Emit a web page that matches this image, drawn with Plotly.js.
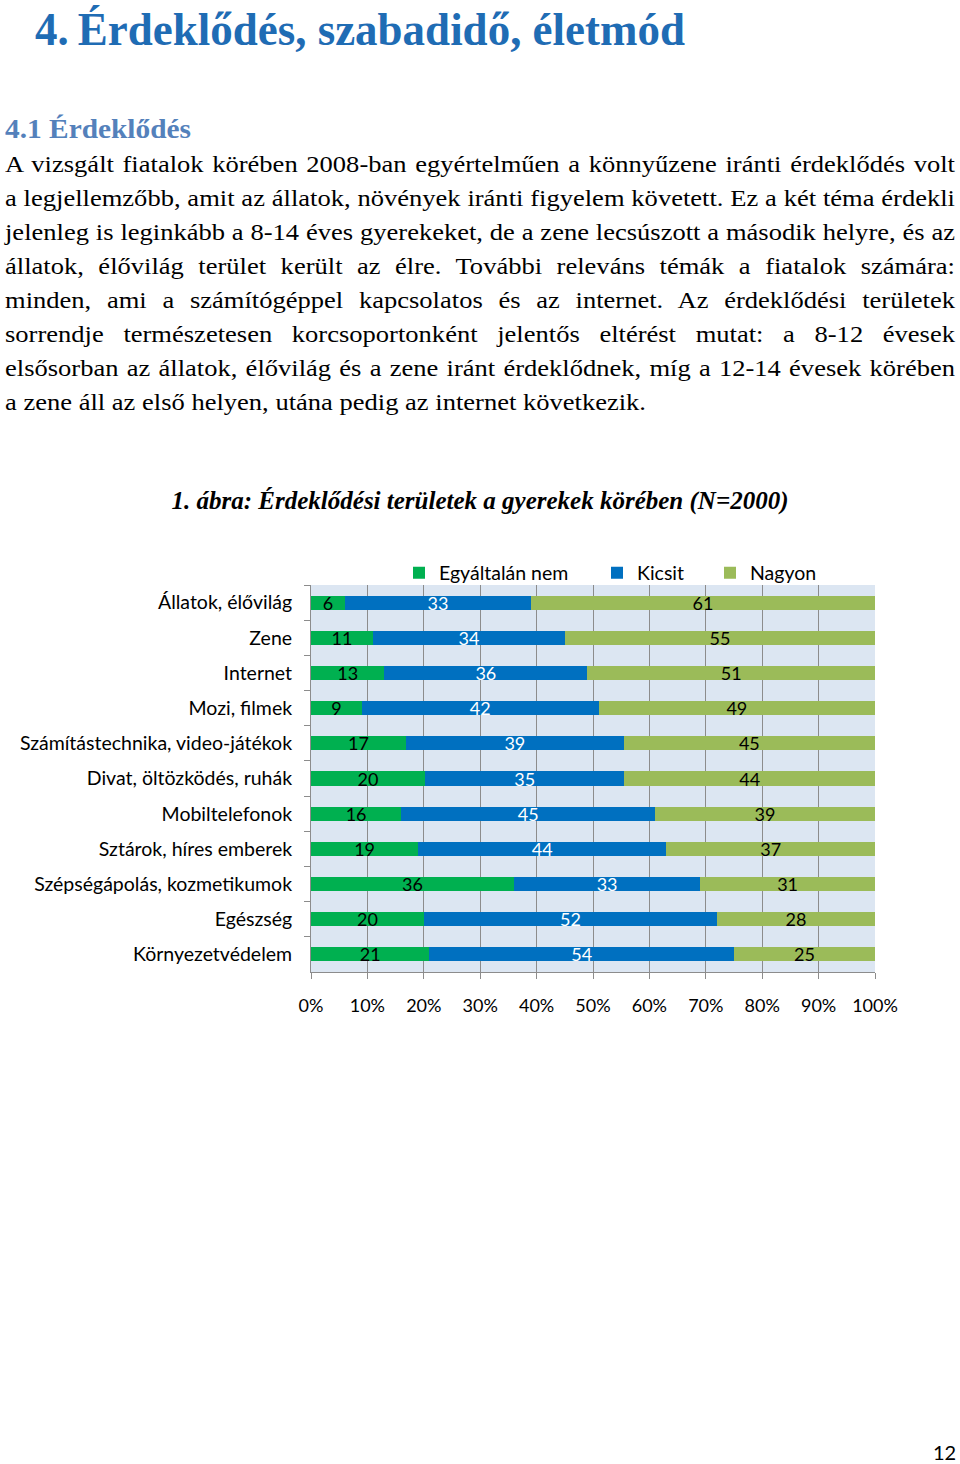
<!DOCTYPE html>
<html><head><meta charset="utf-8">
<script src="https://cdn.plot.ly/plotly-3.0.1.min.js"></script>
<style>
html,body{margin:0;padding:0;background:#fff;}
#page{position:relative;width:960px;height:1464px;overflow:hidden;background:#fff;}
#chart{position:absolute;left:0;top:0;width:960px;height:1464px;}
.t{position:absolute;white-space:nowrap;transform-origin:0 50%;z-index:5;pointer-events:none;}
.t span{display:inline-block;white-space:nowrap;}
</style></head><body>
<div id="page"><div id="chart"></div></div>
<script>
// ---- chart data ----
const categories = ['Állatok, élővilág','Zene','Internet','Mozi, filmek','Számítástechnika, video-játékok','Divat, öltözködés, ruhák','Mobiltelefonok','Sztárok, híres emberek','Szépségápolás, kozmetikumok','Egészség','Környezetvédelem'];
const notAtAll = [6, 11, 13, 9, 17, 20, 16, 19, 36, 20, 21];
const aLittle  = [33, 34, 36, 42, 39, 35, 45, 44, 33, 52, 54];
const veryMuch = [61, 55, 51, 49, 45, 44, 39, 37, 31, 28, 25];
const seriesNames = ['Egyáltalán nem', 'Kicsit', 'Nagyon'];
const xTickVals = [0, 10, 20, 30, 40, 50, 60, 70, 80, 90, 100];
const xTickText = ['0%','10%','20%','30%','40%','50%','60%','70%','80%','90%','100%'];
const chartTitle = '1. ábra: Érdeklődési területek a gyerekek körében (N=2000)';

// ---- page text ----
const heading1 = '4.\u2009Érdeklődés, szabadidő, életmód';
const heading2 = '4.1 Érdeklődés';
const paragraphLines = [
  'A vizsgált fiatalok körében 2008-ban egyértelműen a könnyűzene iránti érdeklődés volt',
  'a legjellemzőbb, amit az állatok, növények iránti figyelem követett. Ez a két téma érdekli',
  'jelenleg is leginkább a 8-14 éves gyerekeket, de a zene lecsúszott a második helyre, és az',
  'állatok, élővilág terület került az élre. További releváns témák a fiatalok számára:',
  'minden, ami a számítógéppel kapcsolatos és az internet. Az érdeklődési területek',
  'sorrendje természetesen korcsoportonként jelentős eltérést mutat: a 8-12 évesek',
  'elsősorban az állatok, élővilág és a zene iránt érdeklődnek, míg a 12-14 évesek körében',
  'a zene áll az első helyen, utána pedig az internet következik.'
];
const pageNumber = '12';

// ---- text placement helper ----
const page = document.getElementById('page');
function makeText(str, left, centerY, opts) {
  const d = document.createElement('div');
  d.className = 't';
  const lh = opts.lh || opts.size * 1.3;
  d.style.left = left + 'px';
  d.style.fontFamily = opts.family;
  d.style.fontSize = opts.size + 'px';
  d.style.lineHeight = lh + 'px';
  d.style.top = (centerY - lh / 2) + 'px';
  d.style.color = opts.color || '#000';
  if (opts.weight) d.style.fontWeight = opts.weight;
  if (opts.style) d.style.fontStyle = opts.style;
  const s = document.createElement('span');
  s.textContent = str;
  d.appendChild(s);
  page.appendChild(d);
  return {d, s, w: s.getBoundingClientRect().width};
}
function fitText(str, left, centerY, opts) {
  const o = makeText(str, left, centerY, opts);
  o.d.style.transform = 'scaleX(' + (opts.width / o.w) + ')';
}

const serif = '"Liberation Serif", "DejaVu Serif", serif';
fitText(heading1, 35, 30, {family: serif, size: 46, weight: 'bold', color: '#1f6cb4', width: 650});
fitText(heading2, 5, 130, {family: serif, size: 27, weight: 'bold', color: '#5481bb', width: 186});

// paragraph: horizontal stretch taken from the (unjustified) last line, other lines justified
const lineY0 = 165, lineStep = 34, fullWidth = 950, lastWidth = 641;
const pOpts = {family: serif, size: 23, lh: 34};
const made = paragraphLines.map((ln, i) => makeText(ln, 5, lineY0 + i * lineStep, pOpts));
const k = lastWidth / made[made.length - 1].w;
made.forEach((o, i) => {
  const last = i === made.length - 1;
  const spaces = (paragraphLines[i].match(/ /g) || []).length;
  const stretched = o.w * k;
  if (last) {
    o.d.style.transform = 'scaleX(' + k + ')';
  } else if (stretched > fullWidth) {
    o.d.style.transform = 'scaleX(' + (fullWidth / o.w) + ')';
  } else {
    o.s.style.wordSpacing = ((fullWidth - stretched) / k / spaces) + 'px';
    o.d.style.transform = 'scaleX(' + k + ')';
  }
});
makeText(pageNumber, 933, 1452, {family: 'Lato, sans-serif', size: 20, lh: 20});

// ---- chart ----
const colors = ['#00b050', '#0070c0', '#9bbb59'];
const textColors = ['#000000', '#ffffff', '#000000'];
const seriesValues = [notAtAll, aLittle, veryMuch];
const legends = ['legend', 'legend2', 'legend3'];

const traces = seriesValues.map((vals, j) => ({
  type: 'bar',
  orientation: 'h',
  name: seriesNames[j],
  y: categories,
  x: vals,
  text: vals.map(String),
  texttemplate: '%{text}',
  textposition: 'inside',
  insidetextanchor: 'middle',
  textangle: 0,
  constraintext: 'none',
  textfont: {family: 'Lato, sans-serif', size: 18, color: textColors[j]},
  marker: {color: colors[j], line: {width: 0}},
  legend: legends[j],
  hoverinfo: 'skip'
}));

const legendBase = {
  orientation: 'h', xref: 'container', yref: 'container',
  yanchor: 'middle', xanchor: 'left', y: 1 - 573 / 1464,
  font: {family: 'Lato, sans-serif', size: 19.5, color: '#000'},
  bgcolor: 'rgba(0,0,0,0)', borderwidth: 0, itemwidth: 30
};

const layout = {
  width: 960, height: 1464,
  margin: {l: 311, r: 85, t: 585, b: 492, pad: 0, autoexpand: false},
  paper_bgcolor: '#ffffff',
  plot_bgcolor: '#dce6f2',
  barmode: 'stack',
  barnorm: 'percent',
  bargap: 0.6,
  showlegend: true,
  title: {
    text: chartTitle,
    font: {family: serif, size: 25, color: '#000', weight: 'bold', style: 'italic'},
    xref: 'container', yref: 'container', x: 0.5, xanchor: 'center',
    y: 1 - 500 / 1464, yanchor: 'middle'
  },
  legend: Object.assign({}, legendBase, {x: 399 / 960}),
  legend2: Object.assign({}, legendBase, {x: 597 / 960}),
  legend3: Object.assign({}, legendBase, {x: 710 / 960}),
  xaxis: {
    range: [0, 100], fixedrange: true,
    tickvals: xTickVals, ticktext: xTickText,
    showgrid: true, gridcolor: '#8c8c8c', gridwidth: 1,
    zeroline: false, showline: true, linecolor: '#8c8c8c', linewidth: 1,
    ticks: 'outside', ticklen: 6, tickcolor: '#8c8c8c',
    ticklabelstandoff: 11,
    tickfont: {family: 'Lato, sans-serif', size: 18, color: '#000'}
  },
  yaxis: {
    type: 'category', autorange: 'reversed', fixedrange: true,
    categoryorder: 'array', categoryarray: categories,
    tickson: 'boundaries', ticks: 'outside', ticklen: 6, tickcolor: '#8c8c8c',
    showline: true, linecolor: '#8c8c8c', linewidth: 1,
    showgrid: false, zeroline: false,
    ticklabelstandoff: 14,
    tickfont: {family: 'Lato, sans-serif', size: 19.5, color: '#000'}
  }
};

Plotly.newPlot('chart', traces, layout, {displayModeBar: false, staticPlot: true});
</script>
</body></html>
